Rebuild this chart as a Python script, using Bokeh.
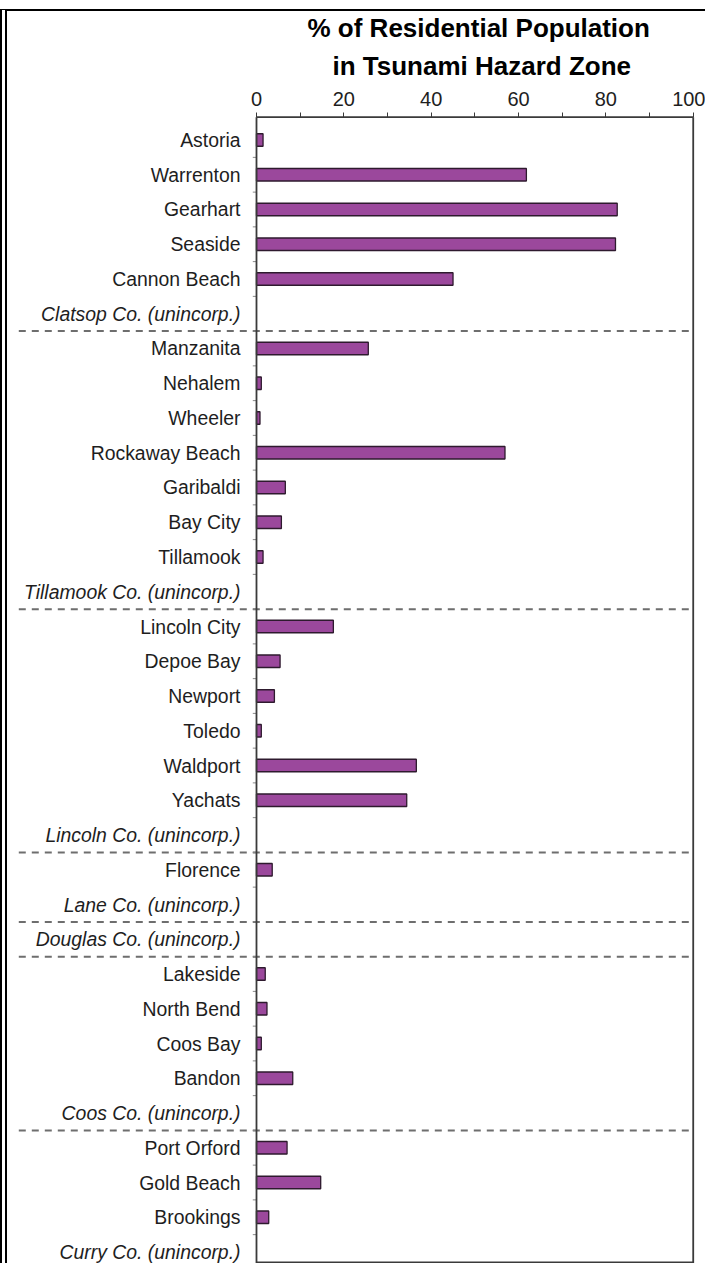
from bokeh.plotting import figure
from bokeh.models import Range1d, FixedTicker, Title, ColumnDataSource
from bokeh.core.properties import value, field
from bokeh.embed import file_html
from bokeh.resources import INLINE

# ---------------- data ----------------
places = [
    "Astoria", "Warrenton", "Gearhart", "Seaside", "Cannon Beach", "Clatsop Co. (unincorp.)",
    "Manzanita", "Nehalem", "Wheeler", "Rockaway Beach", "Garibaldi", "Bay City", "Tillamook",
    "Tillamook Co. (unincorp.)",
    "Lincoln City", "Depoe Bay", "Newport", "Toledo", "Waldport", "Yachats", "Lincoln Co. (unincorp.)",
    "Florence", "Lane Co. (unincorp.)",
    "Douglas Co. (unincorp.)",
    "Lakeside", "North Bend", "Coos Bay", "Bandon", "Coos Co. (unincorp.)",
    "Port Orford", "Gold Beach", "Brookings", "Curry Co. (unincorp.)",
]
pct_in_zone = [
    1.5, 61.8, 82.6, 82.2, 45.0, 0.0,
    25.6, 1.1, 0.8, 56.9, 6.6, 5.7, 1.5, 0.0,
    17.6, 5.4, 4.1, 1.1, 36.6, 34.4, 0.0,
    3.6, 0.0,
    0.0,
    2.0, 2.4, 1.1, 8.3, 0.0,
    7.0, 14.7, 2.8, 0.0,
]
county = (["Clatsop"] * 6 + ["Tillamook"] * 8 + ["Lincoln"] * 7 + ["Lane"] * 2
          + ["Douglas"] * 1 + ["Coos"] * 5 + ["Curry"] * 4)
unincorporated = [name.endswith("(unincorp.)") for name in places]
x_ticks = [0, 10, 20, 30, 40, 50, 60, 70, 80, 90, 100]
x_tick_labels = {0: "0", 10: "", 20: "20", 30: "", 40: "40", 50: "",
                 60: "60", 70: "", 80: "80", 90: "", 100: "100"}
title_lines = ["% of Residential Population", "in Tsunami Hazard Zone"]

# ---------------- layout constants ----------------
FONT = "Liberation Sans"
BAR_FILL = "#9b489c"
BAR_LINE = "#2e1a2e"
SPINE = "#3a3a3a"
n = len(places)
rows = list(range(n))
Y_TOP_FRAME = -0.791
Y_BOTTOM_FRAME = 32.388
Y_AXIS_LINE = -0.656
Y_BOTTOM_LINE = 32.30
X_MIN, X_MAX = -55.87, 101.21
DASH_X0 = -54.43

p = figure(width=705, height=1254,
           x_range=Range1d(X_MIN, X_MAX),
           y_range=Range1d(Y_BOTTOM_FRAME, Y_TOP_FRAME),
           x_axis_location="above", y_axis_location=None,
           output_backend="svg", toolbar_location=None,
           min_border_left=5, min_border_right=14,
           min_border_top=101, min_border_bottom=0)
p.outline_line_color = None
p.grid.visible = False
p.background_fill_color = "white"
p.border_fill_color = "white"
p.styles = {"margin-top": "9px", "border-top": "2px solid black",
            "border-left": "7px double black"}

ax = p.xaxis[0]
ax.ticker = FixedTicker(ticks=x_ticks)
ax.major_label_overrides = x_tick_labels
ax.axis_line_color = None
ax.major_tick_in = 5
ax.major_tick_out = 0
ax.major_tick_line_color = SPINE
ax.major_tick_line_width = 1
ax.minor_tick_line_color = None
ax.major_label_text_font = FONT
ax.major_label_text_font_size = "20px"
ax.major_label_text_color = "#1e1e1e"
ax.major_label_standoff = 7

t2 = Title(text=title_lines[1], align="left", offset=320, standoff=16,
           text_font=FONT, text_font_size="26px", text_font_style="bold",
           text_color="black")
t1 = Title(text=title_lines[0], align="left", offset=295, standoff=-4,
           text_font=FONT, text_font_size="26px", text_font_style="bold",
           text_color="black")
p.add_layout(t2, "above")
p.add_layout(t1, "above")

# dashed separators between counties
sep_y = [i + 0.5 for i in range(n - 1) if county[i] != county[i + 1]]
p.segment(x0=[DASH_X0] * len(sep_y), x1=[100] * len(sep_y), y0=sep_y, y1=sep_y,
          line_color="#6e6e6e", line_width=2, line_dash="7 6")

# bars
bar_src = ColumnDataSource(dict(
    y=[r for r, v in zip(rows, pct_in_zone) if v > 0],
    right=[v for v in pct_in_zone if v > 0],
))
p.hbar(y="y", left=0, right="right", height=0.36, source=bar_src,
       fill_color=BAR_FILL, line_color=BAR_LINE, line_width=1.3)

# category boundary ticks on the left spine
bnd = [i + 0.5 for i in range(n - 1)]
p.segment(x0=[-0.85] * len(bnd), x1=[0] * len(bnd), y0=bnd, y1=bnd,
          line_color="#8a8a8a", line_width=1)

# plot box (spines)
p.segment(x0=[0, 100, 0, 0], x1=[0, 100, 100, 100],
          y0=[Y_AXIS_LINE, Y_AXIS_LINE, Y_AXIS_LINE, Y_BOTTOM_LINE],
          y1=[Y_BOTTOM_FRAME, Y_BOTTOM_FRAME, Y_AXIS_LINE, Y_BOTTOM_LINE],
          line_color=SPINE, line_width=1.8)

# category labels
lab_src = ColumnDataSource(dict(
    x=[0] * n, y=rows, text=places,
    style=["italic" if u else "normal" for u in unincorporated],
))
p.text(x="x", y="y", text="text", source=lab_src, x_offset=-16,
       text_align="right", text_baseline="middle",
       text_font=value(FONT), text_font_size="19.4px",
       text_font_style=field("style"), text_color="#1e1e1e")

open("out.html", "w").write(file_html(p, INLINE))
